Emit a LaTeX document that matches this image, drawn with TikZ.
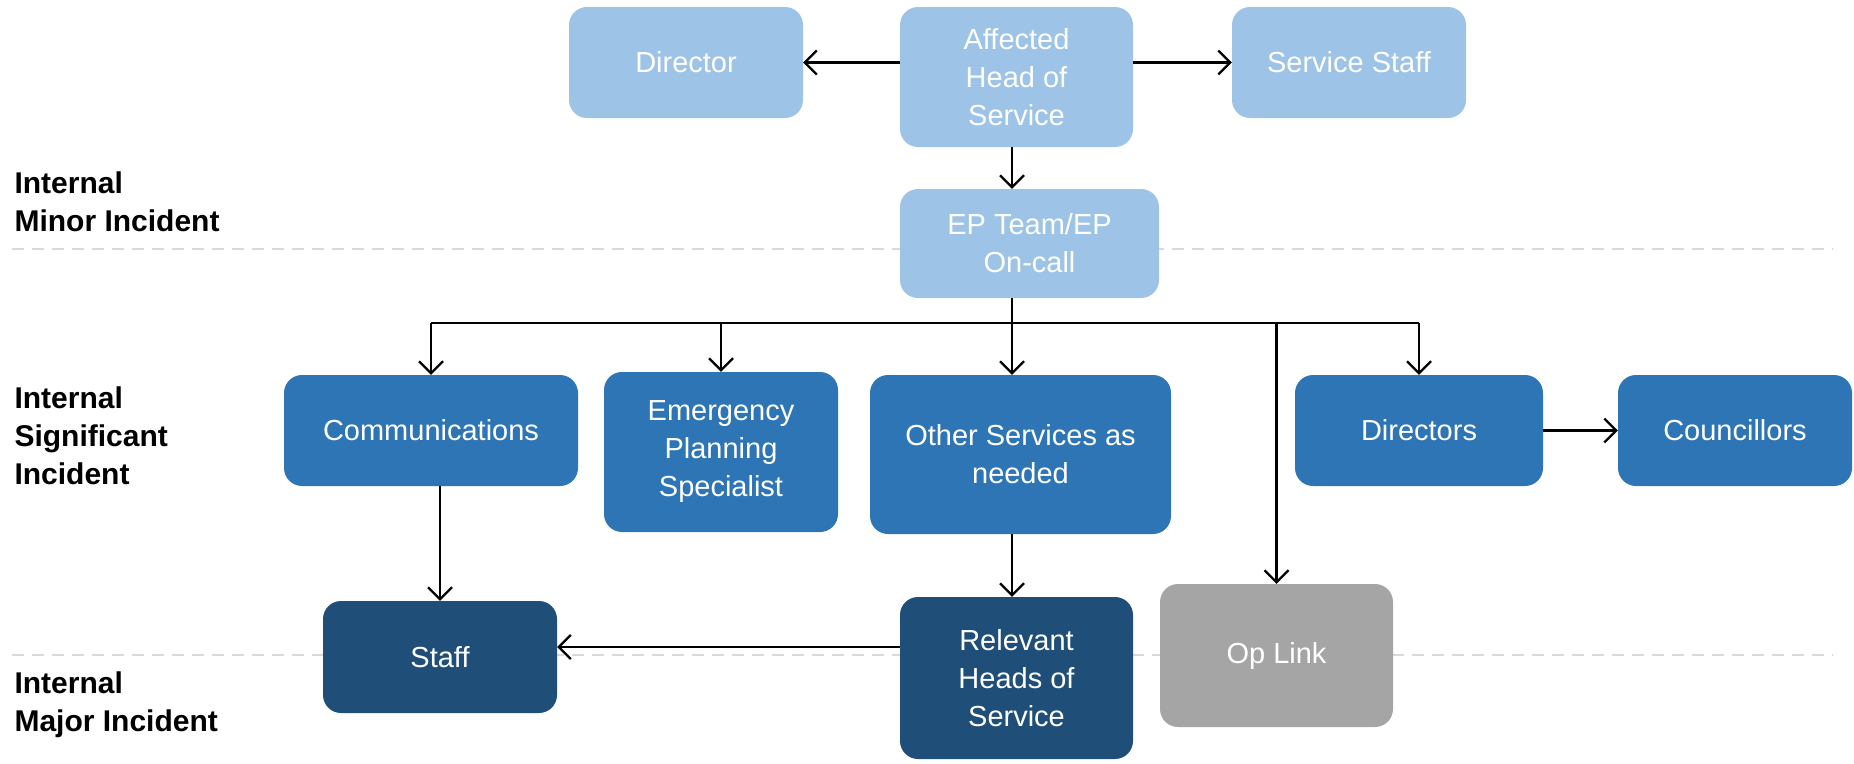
\documentclass[tikz,border=0pt]{standalone}
\usepackage{fontspec}
\setmainfont{Liberation Sans}
\usepackage{tikz}
\usetikzlibrary{arrows.meta,calc}
\definecolor{lightblue}{HTML}{9DC3E6}
\definecolor{midblue}{HTML}{2E75B6}
\definecolor{darkblue}{HTML}{1F4E79}
\definecolor{opgray}{HTML}{A5A5A5}
\definecolor{sepgray}{HTML}{D9D9D9}

\begin{document}
\begin{tikzpicture}[x=1pt,y=-1pt,
  >={Straight Barb[length=12pt,width=24pt]},
  box/.style={rectangle, rounded corners=18pt, text=white, align=center,
    font=\fontsize{29}{38}\selectfont, inner sep=0pt},
  minor/.style={box, fill=lightblue},
  sig/.style={box, fill=midblue},
  major/.style={box, fill=darkblue},
  oplk/.style={box, fill=opgray},
  link/.style={draw=black, line width=2.2pt},
  sep/.style={draw=sepgray, line width=2.5pt, dash pattern=on 12pt off 8pt},
  level/.style={anchor=west, align=left, font=\fontsize{30}{38}\selectfont\bfseries}]
\useasboundingbox (0,0) rectangle (1854,763);

\coordinate (s1a) at (12,249);
\coordinate (s1b) at (1833,249);
\coordinate (s2a) at (12,655);
\coordinate (s2b) at (1833,655);
\draw[sep] (s1a) -- (s1b);
\draw[sep] (s2a) -- (s2b);

\node[level] (lminor) at (11,202) {Internal\\Minor Incident};
\node[level] (lsig) at (11,436) {Internal\\Significant\\Incident};
\node[level] (lmajor) at (11,705) {Internal\\Major Incident};

\node[minor, minimum width=234pt, minimum height=111pt] (dir) at (686,62.5) {Director};
\node[minor, minimum width=233pt, minimum height=140pt] (ahos) at (1016.5,77) {Affected\\Head of\\Service};
\node[minor, minimum width=234pt, minimum height=111pt] (sstaff) at (1349,62.5) {Service Staff};
\node[minor, minimum width=259pt, minimum height=109pt] (ep) at (1029.5,243.5) {EP Team/EP\\On-call};

\node[sig, minimum width=294pt, minimum height=111pt] (comm) at (431,430.5) {Communications};
\node[sig, minimum width=234pt, minimum height=160pt] (eps) at (721,452) {Emergency\\Planning\\Specialist};
\node[sig, minimum width=301pt, minimum height=159pt] (other) at (1020.5,454.5) {Other Services as\\needed};
\node[sig, minimum width=248pt, minimum height=111pt] (dirs) at (1419,430.5) {Directors};
\node[sig, minimum width=234pt, minimum height=111pt] (coun) at (1735,430.5) {Councillors};

\node[major, minimum width=234pt, minimum height=112pt] (staff) at (440,657) {Staff};
\node[major, minimum width=233pt, minimum height=162pt] (rhos) at (1016.5,678) {Relevant\\Heads of\\Service};
\node[oplk, minimum width=233pt, minimum height=143pt] (oplink) at (1276.5,655.5) {Op Link};

\coordinate (bus) at (1012,323);

\draw[link,->] (ahos.west |- dir) -- (dir.east);
\draw[link,->] (ahos.east |- sstaff) -- (sstaff.west);
\draw[link,->] (ahos.south -| bus) -- (ep.north -| bus);
\draw[link] (ep.south -| bus) -- (bus);
\draw[link] (comm.north |- bus) -- (dirs.north |- bus);
\draw[link,->] (comm.north |- bus) -- (comm.north);
\draw[link,->] (eps.north |- bus) -- (eps.north);
\draw[link,->] (bus) -- (bus |- other.north);
\draw[link,->] (dirs.north |- bus) -- (dirs.north);
\draw[link,->] (oplink.north |- bus) -- (oplink.north);
\draw[link,->] (dirs.east) -- (coun.west);
\draw[link,->] (comm.south -| staff) -- (staff.north);
\draw[link,->] (other.south -| bus) -- (rhos.north -| bus);
\draw[link,->] ([yshift=10pt]staff.east -| rhos.west) -- ([yshift=10pt]staff.east);
\end{tikzpicture}
\end{document}
